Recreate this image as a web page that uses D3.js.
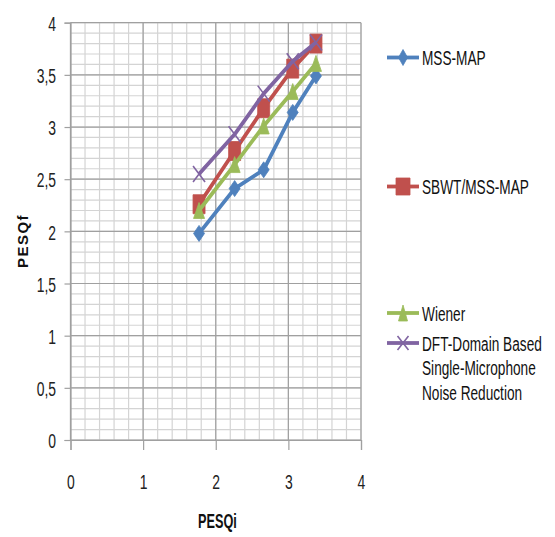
<!DOCTYPE html>
<html>
<head>
<meta charset="utf-8">
<script src="https://cdn.jsdelivr.net/npm/d3@7"></script>
<style>
  html, body { margin: 0; padding: 0; background: #fff; }
  svg { display: block; }
</style>
</head>
<body>
<svg id="chart" width="555" height="537"></svg>
<script>
// PESQ input vs PESQ output for four noise reduction methods
const pesqi = [1.77, 2.26, 2.66, 3.06, 3.38];
const mssMap = [1.98, 2.41, 2.59, 3.14, 3.49];
const sbwtMssMap = [2.26, 2.77, 3.18, 3.56, 3.80];
const wiener = [2.20, 2.64, 3.01, 3.34, 3.61];
const dftDomain = [2.55, 2.93, 3.32, 3.63, 3.81];

const xTicks = [0, 1, 2, 3, 4];
const yTicks = [0, 0.5, 1, 1.5, 2, 2.5, 3, 3.5, 4];
const yTickLabels = ["0", "0,5", "1", "1,5", "2", "2,5", "3", "3,5", "4"];

const seriesNames = ["MSS-MAP", "SBWT/MSS-MAP", "Wiener", "DFT-Domain Based|Single-Microphone|Noise Reduction"];
const seriesColors = ["#4F81BD", "#C0504D", "#9BBB59", "#8064A2"];
const seriesMarkers = ["diamond", "square", "triangle", "x"];
const seriesValues = [mssMap, sbwtMssMap, wiener, dftDomain];

const svg = d3.select("#chart");
const x = d3.scaleLinear().domain([0, 4]).range([70.5, 361]);
const y = d3.scaleLinear().domain([0, 4]).range([440, 22.7]);

const sans = "'Liberation Sans', Arial, sans-serif";
const squeeze = 0.68; // condensed look for tick labels

// Grid: minor lines
const grid = svg.append("g");
d3.range(0, 4.001, 0.2).forEach(v => {
  grid.append("line")
    .attr("x1", x(v)).attr("x2", x(v)).attr("y1", y(0)).attr("y2", y(4))
    .attr("stroke", "#d4d4d4").attr("stroke-width", 1.2);
});
d3.range(0, 4.001, 0.1).forEach(v => {
  grid.append("line")
    .attr("x1", x(0)).attr("x2", x(4)).attr("y1", y(v)).attr("y2", y(v))
    .attr("stroke", "#d4d4d4").attr("stroke-width", 1.2);
});
// Grid: major lines
xTicks.forEach(v => {
  grid.append("line")
    .attr("x1", x(v)).attr("x2", x(v)).attr("y1", y(0)).attr("y2", y(4))
    .attr("stroke", "#a0a0a0").attr("stroke-width", 1.2);
});
yTicks.forEach(v => {
  grid.append("line")
    .attr("x1", x(0)).attr("x2", x(4)).attr("y1", y(v)).attr("y2", y(v))
    .attr("stroke", "#a0a0a0").attr("stroke-width", 1.2);
});

// Axes
const xAxis = d3.axisBottom(x).tickValues(xTicks).tickSize(10).tickPadding(24)
  .tickFormat(d => String(d));
const gx = svg.append("g").attr("transform", `translate(0,${y(0)})`).call(xAxis);
const yAxis = d3.axisLeft(y).tickValues(yTicks).tickSize(6).tickPadding(8.5)
  .tickFormat((d, i) => yTickLabels[i]);
const gy = svg.append("g").attr("transform", `translate(${x(0)},0)`).call(yAxis);
[gx, gy].forEach(g => {
  g.select(".domain").attr("stroke", "#a0a0a0").attr("stroke-width", 1.2);
  g.selectAll(".tick line").attr("stroke", "#a0a0a0").attr("stroke-width", 1.2);
  g.selectAll(".tick text").attr("fill", "#222")
    .style("font-family", sans).style("font-size", "20.5px")
    .attr("x", function () { return (+this.getAttribute("x") || 0) / squeeze; })
    .attr("transform", `scale(${squeeze},1)`);
});
gy.selectAll(".tick text").attr("dy", "0.38em");

// Axis titles
svg.append("text")
  .attr("transform", "translate(198,528) scale(0.62,1)")
  .attr("fill", "#111")
  .style("font-family", sans).style("font-weight", "bold").style("font-size", "20.5px")
  .text("PESQi");
svg.append("text")
  .attr("transform", "translate(28,241) rotate(-90)")
  .attr("text-anchor", "middle")
  .attr("fill", "#111")
  .style("font-family", sans)
  .style("font-weight", "bold").style("font-size", "15px")
  .style("letter-spacing", "1.5px")
  .text("PESQf");

// Marker shapes
function markerPath(type, w, h) {
  const a = w / 2, b = h / 2;
  if (type === "diamond") return `M0,${-b}L${a},0L0,${b}L${-a},0Z`;
  if (type === "square") return `M${-a},${-b}H${a}V${b}H${-a}Z`;
  if (type === "triangle") return `M0,${-b}L${a},${b}L${-a},${b}Z`;
  return `M${-a},${-b}L${a},${b}M${-a},${b}L${a},${-b}`;
}
function drawMarker(g, type, color, cx, cy, w, h) {
  const p = g.append("path")
    .attr("transform", `translate(${cx},${cy})`)
    .attr("d", markerPath(type, w, h));
  if (type === "x") p.attr("fill", "none").attr("stroke", color).attr("stroke-width", 1.6);
  else p.attr("fill", color).attr("stroke", color).attr("stroke-width", 0.8);
}
const markerSize = { diamond: [11, 16], square: [12, 19], triangle: [11, 16], x: [12, 16] };

const line = d3.line().x(d => x(d[0])).y(d => y(d[1]));
const plot = svg.append("g");
seriesValues.forEach((vals, i) => {
  const pts = pesqi.map((px, j) => [px, vals[j]]);
  const g = plot.append("g");
  g.append("path").datum(pts).attr("d", line)
    .attr("fill", "none").attr("stroke", seriesColors[i]).attr("stroke-width", 3.8)
    .attr("stroke-linejoin", "round");
  const [w, h] = markerSize[seriesMarkers[i]];
  pts.forEach(p => drawMarker(g, seriesMarkers[i], seriesColors[i], x(p[0]), y(p[1]), w, h));
});

// Legend
const legendY = [57.5, 186.5, 313, 343];
const legend = svg.append("g");
seriesNames.forEach((name, i) => {
  const ly = legendY[i];
  legend.append("line")
    .attr("x1", 387).attr("x2", 419).attr("y1", ly).attr("y2", ly)
    .attr("stroke", seriesColors[i]).attr("stroke-width", 3.8);
  const type = seriesMarkers[i];
  const sz = type === "square" ? [14, 17] : (type === "x" ? [11, 14] : [9, 16]);
  drawMarker(legend, type, seriesColors[i], 403, ly, sz[0], sz[1]);
  name.split("|").forEach((part, k) => {
    legend.append("text")
      .attr("transform", `translate(422,${ly + k * 24.7}) scale(0.65,1)`)
      .attr("dy", "0.36em")
      .attr("fill", "#111")
      .style("font-family", sans).style("font-size", "21px")
      .text(part);
  });
});
</script>
</body>
</html>
